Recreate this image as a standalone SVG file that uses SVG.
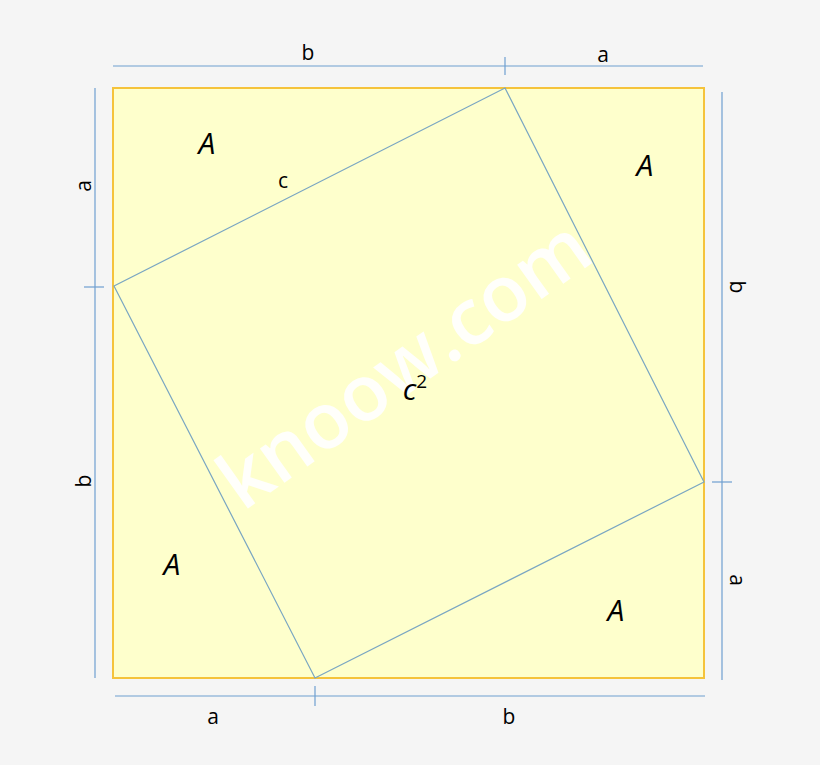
<svg xmlns="http://www.w3.org/2000/svg" width="820" height="765" viewBox="0 0 820 765">
<style>
.dim{stroke:#6f9fd0;stroke-width:1.2;fill:none}
.lbl{font-family:"Open Sans","Liberation Sans",sans-serif;font-size:21px;fill:#000;text-anchor:middle}
.A{font-family:"Open Sans","Liberation Sans",sans-serif;font-size:30px;font-style:italic;fill:#000;text-anchor:middle}
</style>
<rect width="820" height="765" fill="#f5f5f5"/>
<g id="outer-square">
<rect x="113" y="88" width="591" height="590" fill="#feffcc" stroke="#f5c33b" stroke-width="2"/>
</g>
<g id="watermark">
<text x="420" y="386" transform="rotate(-35.5 420 386)" font-family="Open Sans, Liberation Sans, sans-serif" font-size="78" font-weight="600" fill="#ffffff" fill-opacity="0.92" text-anchor="middle">knoow.com</text>
</g>
<g id="inner-square">
<polygon points="505,88 704,482 315,678 114,286" fill="none" stroke="#7aa6c2" stroke-width="1.2"/>
</g>
<g id="connectors">
<line class="dim" x1="113" y1="66" x2="703" y2="66"/>
<line class="dim" x1="505" y1="57" x2="505" y2="75"/>
<line class="dim" x1="95" y1="88" x2="95" y2="678"/>
<line class="dim" x1="84" y1="287" x2="104" y2="287"/>
<line class="dim" x1="722" y1="92" x2="722" y2="680"/>
<line class="dim" x1="712" y1="482" x2="732" y2="482"/>
<line class="dim" x1="115" y1="696" x2="705" y2="696"/>
<line class="dim" x1="315" y1="686" x2="315" y2="706"/>
</g>
<g id="labels">
<text class="lbl" x="308" y="60">b</text>
<text class="lbl" x="603" y="62">a</text>
<text class="lbl" transform="translate(91,186) rotate(-90)">a</text>
<text class="lbl" transform="translate(91,481) rotate(-90)">b</text>
<text class="lbl" transform="translate(730,287) rotate(90)">b</text>
<text class="lbl" transform="translate(730,580) rotate(90)">a</text>
<text class="lbl" x="213" y="724">a</text>
<text class="lbl" x="509" y="724">b</text>
<text class="lbl" x="283" y="188">c</text>
</g>
<g id="area-labels">
<text class="A" x="207" y="154">A</text>
<text class="A" x="645" y="176">A</text>
<text class="A" x="172" y="575">A</text>
<text class="A" x="616" y="621">A</text>
<text class="A" x="415" y="400">c<tspan font-size="19" dy="-12" font-style="normal">2</tspan></text>
</g>
</svg>
